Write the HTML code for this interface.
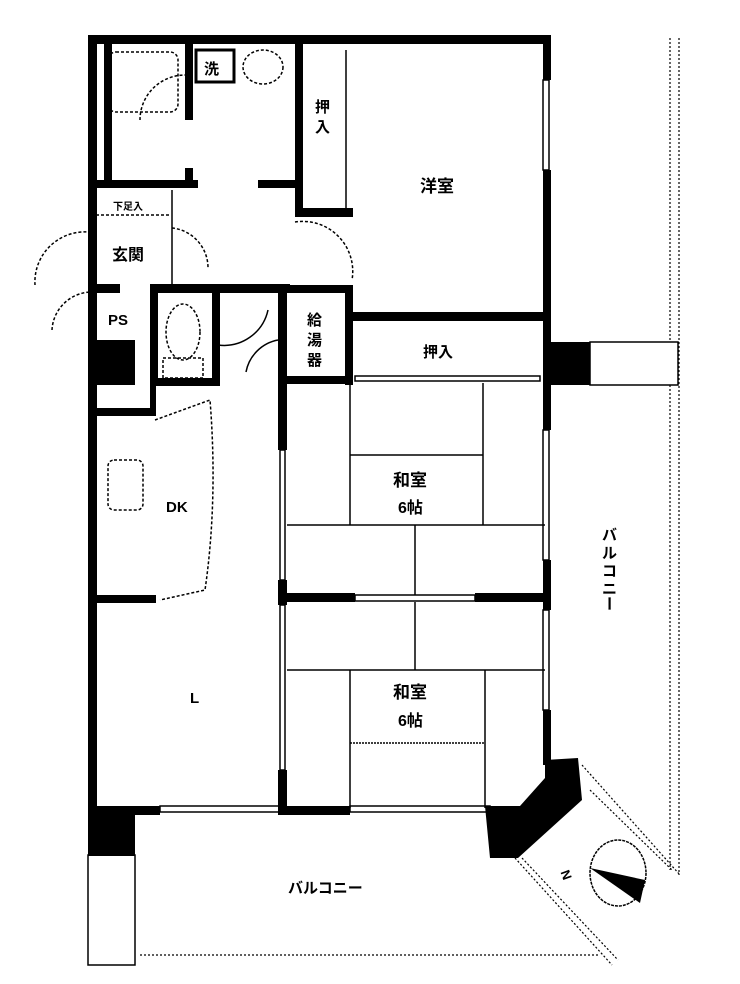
<!DOCTYPE html>
<html><head><meta charset="utf-8"><style>
html,body{margin:0;padding:0;background:#fff;}
svg{display:block;}
text{font-family:"Liberation Sans","Noto Sans CJK JP",sans-serif;font-weight:bold;fill:#000;}
</style></head><body>
<svg width="740" height="984" viewBox="0 0 740 984" xmlns="http://www.w3.org/2000/svg">
<rect width="740" height="984" fill="#fff"/>
<!-- right balcony outline -->
<g fill="none" stroke="#000" stroke-width="1.2" stroke-dasharray="2,2">
<line x1="670" y1="38" x2="670" y2="342"/>
<line x1="679" y1="38" x2="679" y2="875"/>
<line x1="670" y1="385" x2="670" y2="870"/>
<line x1="140" y1="955" x2="600" y2="955"/>
<line x1="582" y1="765" x2="680" y2="875"/>
<line x1="590" y1="790" x2="672" y2="870"/>
<line x1="515" y1="858" x2="612" y2="965"/>
<line x1="522" y1="858" x2="618" y2="960"/>
</g>
<!-- thin outlines -->
<g fill="none" stroke="#000" stroke-width="1.5">
<rect x="590" y="342" width="88" height="43"/>
<rect x="88" y="855" width="47" height="110"/>
<rect x="196" y="50" width="38" height="32" stroke-width="3"/>
<rect x="108" y="52" width="70" height="60" rx="8" stroke-dasharray="3,2"/>
<ellipse cx="263" cy="67" rx="20" ry="17" stroke-dasharray="3,2"/>
<ellipse cx="183" cy="332" rx="17" ry="28" stroke-dasharray="3,2"/>
<rect x="163" y="358" width="40" height="20" stroke-dasharray="3,2"/>
<rect x="108" y="460" width="35" height="50" rx="6" stroke-dasharray="3,2"/>
<path d="M140 120 A45 45 0 0 1 185 75" stroke-dasharray="3,2"/>
<path d="M172 228 A40 40 0 0 1 208 268" stroke-dasharray="3,2"/>
<path d="M295 222 A50 50 0 0 1 352 280" stroke-dasharray="3,2"/>
<path d="M35 285 A50 50 0 0 1 88 232" stroke-dasharray="3,2"/>
<path d="M52 330 A40 40 0 0 1 92 292" stroke-dasharray="3,2"/>
<path d="M218 345 A45 45 0 0 0 268 310"/>
<path d="M246 372 A40 40 0 0 1 278 340"/>
<path d="M155 420 L210 400 Q218 500 205 590 L160 600" stroke-dasharray="3,2"/>
<line x1="96" y1="215" x2="170" y2="215" stroke-dasharray="3,2"/>
<line x1="172" y1="190" x2="172" y2="285"/>
<!-- tatami -->
<line x1="350" y1="383" x2="350" y2="525"/>
<line x1="483" y1="383" x2="483" y2="525"/>
<line x1="350" y1="455" x2="483" y2="455"/>
<line x1="287" y1="525" x2="545" y2="525"/>
<line x1="415" y1="525" x2="415" y2="595"/>
<line x1="415" y1="602" x2="415" y2="670"/>
<line x1="287" y1="670" x2="545" y2="670"/>
<line x1="350" y1="670" x2="350" y2="808"/>
<line x1="485" y1="670" x2="485" y2="808"/>
<line x1="350" y1="743" x2="485" y2="743" stroke-dasharray="2,1"/>
<line x1="346" y1="50" x2="346" y2="208"/>
<!-- windows -->
<rect x="543" y="80" width="6" height="90"/>
<rect x="543" y="430" width="6" height="130"/>
<rect x="543" y="610" width="6" height="100"/>
<rect x="280" y="450" width="5" height="130"/>
<rect x="280" y="605" width="5" height="165"/>
<rect x="160" y="806" width="120" height="6"/>
<rect x="350" y="806" width="140" height="6"/>
<rect x="355" y="595" width="120" height="6"/>
<rect x="355" y="376" width="185" height="5"/>
</g>
<!-- walls -->
<g fill="#000">
<rect x="88" y="35" width="462" height="9"/>
<rect x="88" y="35" width="9" height="820"/>
<rect x="543" y="35" width="8" height="45"/>
<rect x="543" y="170" width="8" height="260"/>
<rect x="543" y="560" width="8" height="50"/>
<rect x="543" y="710" width="8" height="55"/>
<rect x="104" y="44" width="8" height="140"/>
<rect x="185" y="44" width="8" height="76"/>
<rect x="185" y="168" width="8" height="20"/>
<rect x="88" y="180" width="110" height="8"/>
<rect x="258" y="180" width="42" height="8"/>
<rect x="295" y="35" width="8" height="182"/>
<rect x="295" y="208" width="58" height="9"/>
<rect x="88" y="284" width="32" height="9"/>
<rect x="150" y="284" width="140" height="9"/>
<rect x="283" y="285" width="70" height="8"/>
<rect x="345" y="312" width="200" height="9"/>
<rect x="345" y="285" width="8" height="100"/>
<rect x="278" y="285" width="9" height="165"/>
<rect x="278" y="580" width="9" height="25"/>
<rect x="278" y="770" width="9" height="45"/>
<rect x="283" y="376" width="70" height="8"/>
<rect x="150" y="293" width="8" height="92"/>
<rect x="212" y="293" width="8" height="92"/>
<rect x="150" y="378" width="70" height="8"/>
<rect x="88" y="340" width="47" height="45"/>
<rect x="88" y="408" width="68" height="8"/>
<rect x="150" y="385" width="6" height="30"/>
<rect x="88" y="595" width="68" height="8"/>
<rect x="287" y="593" width="68" height="9"/>
<rect x="475" y="593" width="75" height="9"/>
<rect x="88" y="806" width="72" height="9"/>
<rect x="280" y="806" width="70" height="9"/>
<rect x="88" y="806" width="47" height="50"/>
<rect x="551" y="342" width="39" height="43"/>
<polygon points="485,806 520,806 545,778 545,760 578,758 582,800 518,858 490,858"/>
</g>
<!-- compass -->
<ellipse cx="618" cy="873" rx="28" ry="33" fill="#fff" stroke="#000" stroke-width="1.5" stroke-dasharray="3,1"/>
<polygon points="590,868 645,880 640,903" fill="#000"/>
<text x="566" y="876" font-size="13" transform="rotate(70 566 870)">N</text>
<!-- labels -->
<text x="204" y="74" font-size="15">洗</text>
<text x="113" y="210" font-size="10">下足入</text>
<text x="112" y="260" font-size="16">玄関</text>
<text x="108" y="325" font-size="15" font-weight="normal">PS</text>
<text x="315" y="112" font-size="15">押</text>
<text x="315" y="132" font-size="15">入</text>
<text x="420" y="192" font-size="17">洋室</text>
<text x="423" y="357" font-size="15">押入</text>
<text x="307" y="325" font-size="15">給</text>
<text x="307" y="345" font-size="15">湯</text>
<text x="307" y="365" font-size="15">器</text>
<text x="393" y="486" font-size="17">和室</text>
<text x="398" y="513" font-size="16">6帖</text>
<text x="393" y="698" font-size="17">和室</text>
<text x="398" y="726" font-size="16">6帖</text>
<text x="166" y="512" font-size="15" font-weight="normal">DK</text>
<text x="190" y="703" font-size="15" font-weight="normal">L</text>
<text x="288" y="893" font-size="15" font-weight="normal">バルコニー</text>
<g font-size="15" font-weight="normal">
<text x="602" y="540">バ</text><text x="602" y="558">ル</text><text x="602" y="576">コ</text><text x="602" y="594">ニ</text><text x="606" y="602" transform="rotate(90 608 598)">ー</text>
</g>
</svg>
</body></html>
